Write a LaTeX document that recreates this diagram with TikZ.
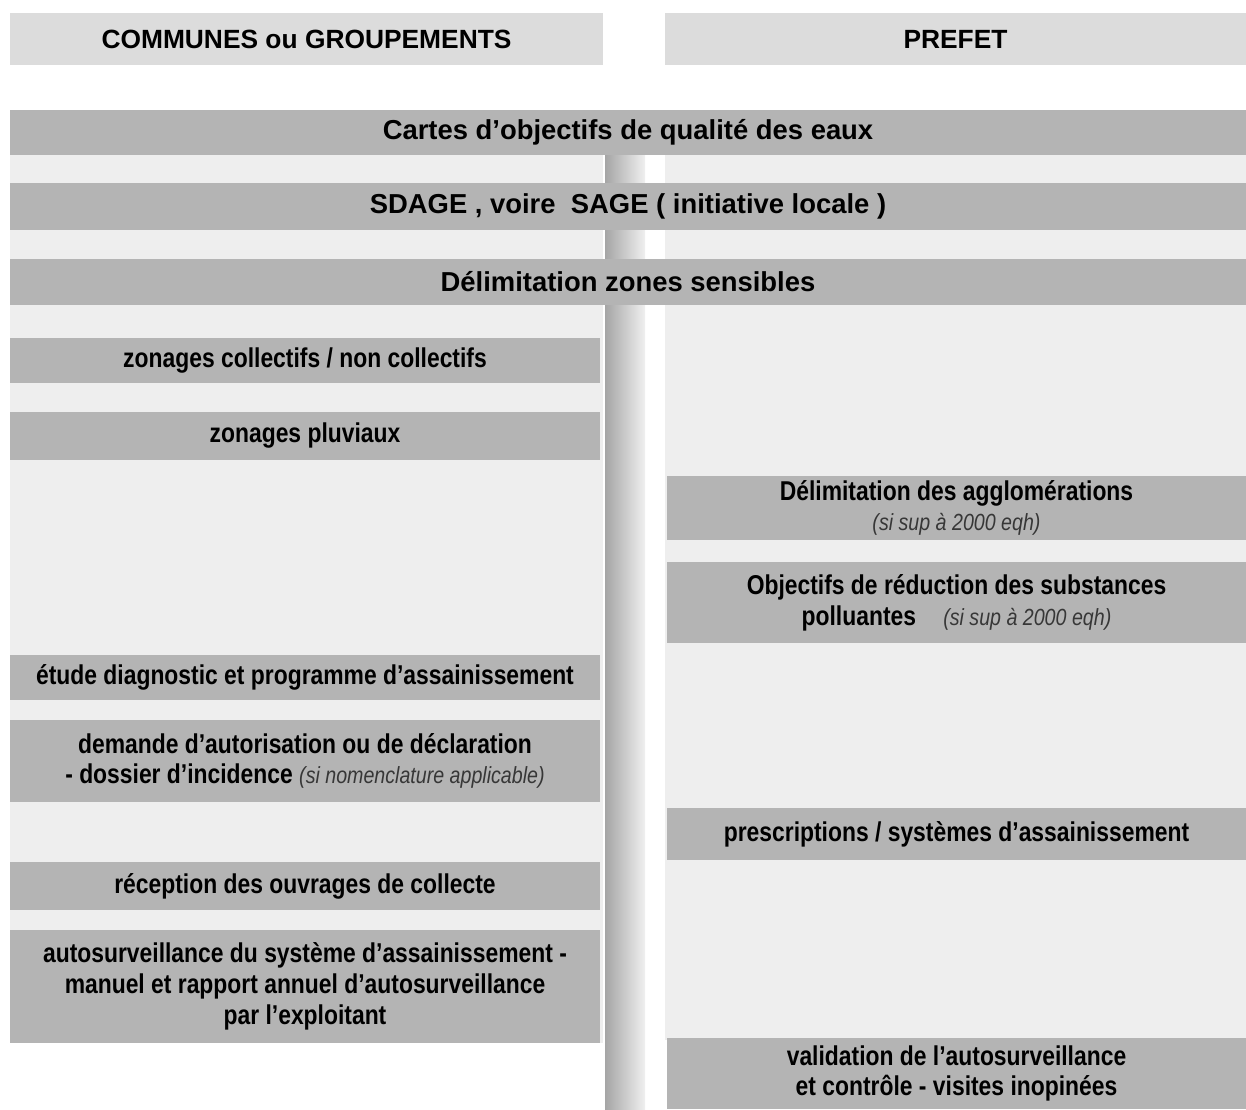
\documentclass[tikz,border=0pt]{standalone}
\usepackage{fontspec}
\setmainfont{Liberation Sans}[FakeStretch=0.84]
\newfontfamily\widefont{Liberation Sans}
\usetikzlibrary{positioning}
\definecolor{barGray}{RGB}{180,180,180}
\definecolor{headGray}{RGB}{220,220,220}
\definecolor{colGray}{RGB}{238,238,238}
\definecolor{railDark}{RGB}{165,165,165}
\definecolor{railLight}{RGB}{240,240,240}
\definecolor{noteGray}{RGB}{55,55,55}
\newcommand{\sinote}[1]{{\mdseries\itshape\fontsize{13.3}{15}\selectfont\color{noteGray}#1}}

\begin{document}
\begin{tikzpicture}[
    x=0.02cm, y=-0.02cm,
    font=\bfseries\fontsize{15.5}{17.5}\selectfont,
    % bandeaux d'en-tete
    header/.style={
        fill=headGray,
        minimum height=1.04cm,
        inner sep=0pt,
        align=center,
        font=\widefont\bfseries\fontsize{15}{17.5}\selectfont
    },
    % bandeaux pleine largeur
    fullbar/.style={
        fill=barGray,
        minimum width=24.72cm,
        inner sep=0pt,
        align=center,
        font=\widefont\bfseries\fontsize{15.6}{17.5}\selectfont
    },
    % blocs colonne gauche
    leftbox/.style={
        fill=barGray,
        minimum width=11.8cm,
        inner sep=0pt,
        align=center
    },
    % blocs colonne droite
    rightbox/.style={
        fill=barGray,
        minimum width=11.58cm,
        inner sep=0pt,
        align=center
    }
]

    \useasboundingbox (0,0) rectangle (1246,1109);

    % --- Fond des colonnes ---
    \fill[colGray] (10,155) rectangle (603,1043);
    \fill[colGray] (665,155) rectangle (1246,1040);
    \shade[left color=railDark, right color=railLight] (605,155) rectangle (645,1109);

    % --- En-tetes ---
    \node[header, minimum width=11.86cm] (communes) at (306.5,39) {COMMUNES ou GROUPEMENTS};
    \node[header, minimum width=11.62cm] (prefet) at (955.5,39) {PREFET};

    % --- Bandeaux communs ---
    \node[fullbar, minimum height=0.9cm] (cartes) at (628,132.5) {Cartes d’objectifs de qualité des eaux};
    \node[fullbar, minimum height=0.94cm] (sdage) at (628,206.5) {SDAGE , voire\ \ SAGE ( initiative locale )};
    \node[fullbar, minimum height=0.92cm] (zones) at (628,282) {Délimitation zones sensibles};

    % --- Communes ou groupements ---
    \node[leftbox, minimum height=0.9cm] (zonages) at (305,360.5) {zonages collectifs / non collectifs};
    \node[leftbox, minimum height=0.96cm] (pluviaux) at (305,436) {zonages pluviaux};
    \node[leftbox, minimum height=0.9cm] (etude) at (305,677.5) {étude diagnostic et programme d’assainissement};
    \node[leftbox, minimum height=1.64cm] (demande) at (305,761) {
        demande d’autorisation ou de déclaration\\
        - dossier d’incidence \sinote{(si nomenclature applicable)}
    };
    \node[leftbox, minimum height=0.96cm] (reception) at (305,886) {réception des ouvrages de collecte};
    \node[leftbox, minimum height=2.26cm] (autosurv) at (305,986.5) {
        autosurveillance du système d’assainissement -\\
        manuel et rapport annuel d’autosurveillance\\
        par l’exploitant
    };

    % --- Prefet ---
    \node[rightbox, minimum height=1.28cm] (agglo) at (956.5,508) {
        Délimitation des agglomérations\\
        \sinote{(si sup à 2000 eqh)}
    };
    \node[rightbox, minimum height=1.62cm] (reduction) at (956.5,602.5) {
        Objectifs de réduction des substances\\
        polluantes\quad\sinote{(si sup à 2000 eqh)}
    };
    \node[rightbox, minimum height=1.04cm] (prescriptions) at (956.5,834) {prescriptions / systèmes d’assainissement};
    \node[rightbox, minimum height=1.42cm] (validation) at (956.5,1073.5) {
        validation de l’autosurveillance\\
        et contrôle - visites inopinées
    };

\end{tikzpicture}
\end{document}
